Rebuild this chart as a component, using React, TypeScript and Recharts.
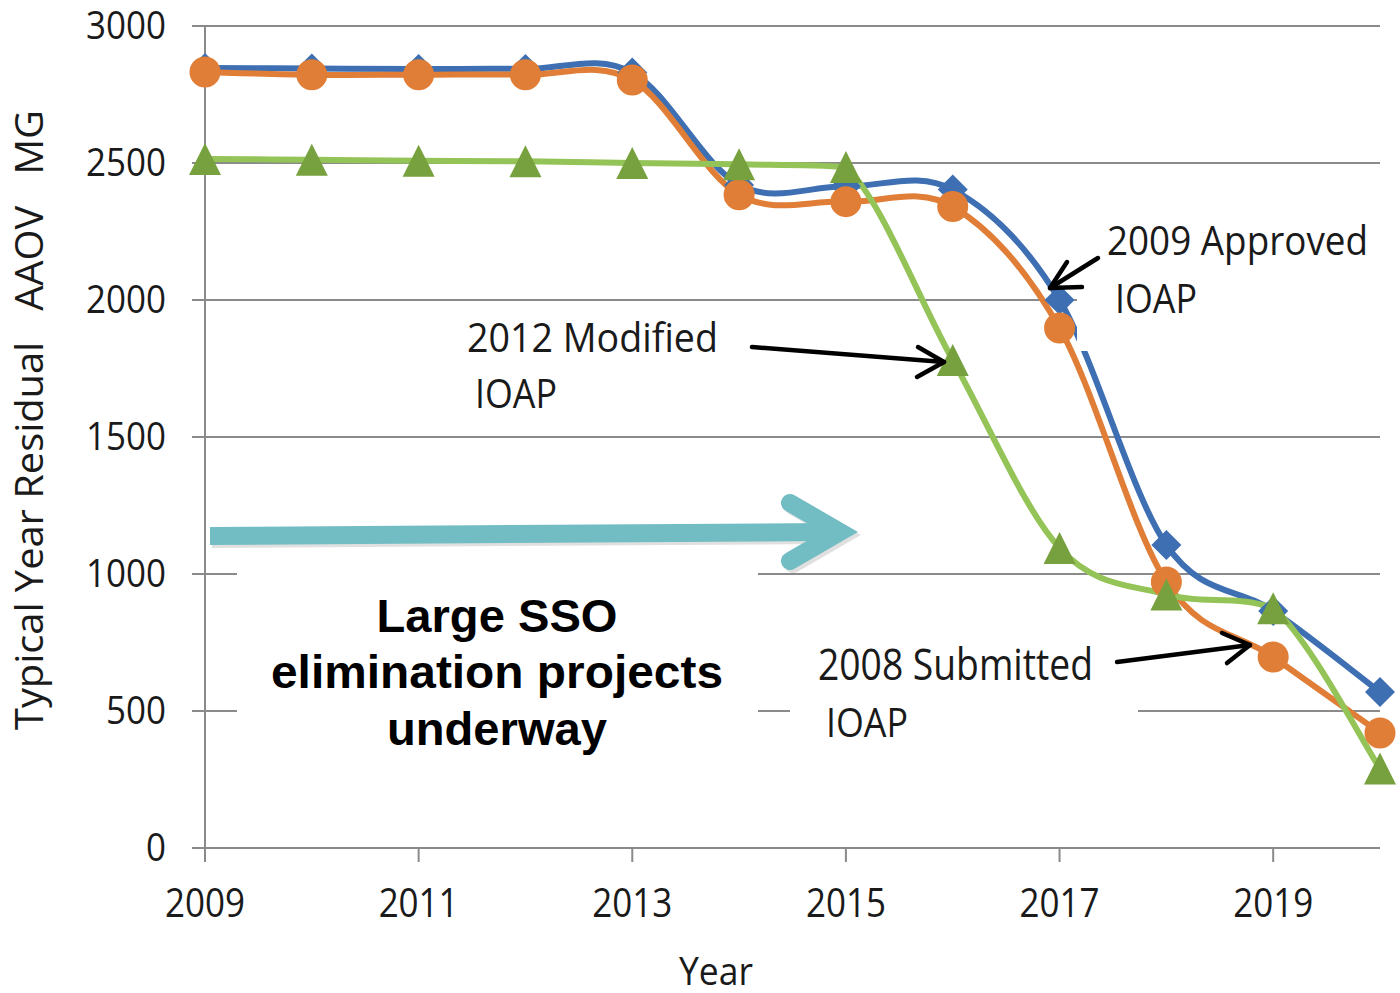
import React from 'react';
import { CartesianGrid, Line, LineChart, XAxis, YAxis } from 'recharts';

const years = [2009, 2010, 2011, 2012, 2013, 2014, 2015, 2016, 2017, 2018, 2019, 2020];
const approved2009 = [2847, 2845, 2843, 2843, 2830, 2420, 2415, 2403, 2000, 1106, 865, 569];
const submitted2008 = [2832, 2822, 2822, 2822, 2803, 2384, 2359, 2341, 1898, 971, 697, 420];
const modified2012 = [2515, 2512, 2508, 2506, 2500, 2495, 2485, 1781, 1095, 925, 875, 290];

const xTicks = [2009, 2011, 2013, 2015, 2017, 2019];
const yTicks = [0, 500, 1000, 1500, 2000, 2500, 3000];

const data = years.map((year, i) => ({
  year,
  approved: approved2009[i],
  submitted: submitted2008[i],
  modified: modified2012[i],
}));

const BLUE = '#3D6FB2';
const ORANGE = '#E07E37';
const GREEN_LINE = '#94C357';
const GREEN_MARK = '#77A13E';
const AXIS = '#8A8A8A';
const FONT = '"Open Sans", sans-serif';

// Excel-style smoothed line (Catmull-Rom through the scaled points).
// With clamp, control points stay inside each segment's y range (no overshoot).
const makeSmooth = (clamp: boolean) => (context: any) => {
  let pts: [number, number][] = [];
  return {
    areaStart() {},
    areaEnd() {},
    lineStart() {
      pts = [];
    },
    point(x: number, y: number) {
      pts.push([+x, +y]);
    },
    lineEnd() {
      if (!pts.length) return;
      context.moveTo(pts[0][0], pts[0][1]);
      for (let i = 0; i < pts.length - 1; i++) {
        const p0 = pts[i - 1] || pts[i];
        const p1 = pts[i];
        const p2 = pts[i + 1];
        const p3 = pts[i + 2] || p2;
        let c1y = p1[1] + (p2[1] - p0[1]) / 6;
        let c2y = p2[1] - (p3[1] - p1[1]) / 6;
        if (clamp) {
          const lo = Math.min(p1[1], p2[1]);
          const hi = Math.max(p1[1], p2[1]);
          c1y = Math.min(hi, Math.max(lo, c1y));
          c2y = Math.min(hi, Math.max(lo, c2y));
        }
        context.bezierCurveTo(
          p1[0] + (p2[0] - p0[0]) / 6,
          c1y,
          p2[0] - (p3[0] - p1[0]) / 6,
          c2y,
          p2[0],
          p2[1]
        );
      }
    },
  };
};

const smooth = makeSmooth(false);
const smoothClamped = makeSmooth(true);

const Diamond = (props: any) => {
  const { cx, cy, index } = props;
  const r = 15;
  return (
    <path
      key={`dia-${index}`}
      d={`M${cx},${cy - r}L${cx + r},${cy}L${cx},${cy + r}L${cx - r},${cy}Z`}
      fill={BLUE}
    />
  );
};

const Circle = (props: any) => {
  const { cx, cy, index } = props;
  return <circle key={`cir-${index}`} cx={cx} cy={cy} r={15.5} fill={ORANGE} />;
};

const Triangle = (props: any) => {
  const { cx, cy, index } = props;
  const h = 16;
  return (
    <path
      key={`tri-${index}`}
      d={`M${cx},${cy - h}L${cx + h},${cy + h}L${cx - h},${cy + h}Z`}
      fill={GREEN_MARK}
    />
  );
};

const YTick = (props: any) => {
  const { x, y, payload } = props;
  const s = String(payload.value);
  return (
    <text
      x={x}
      y={y}
      dy={13}
      textAnchor="end"
      fontFamily={FONT}
      fontSize={39}
      fill="#1a1a1a"
      textLength={s.length * 20}
      lengthAdjust="spacingAndGlyphs"
    >
      {s}
    </text>
  );
};

const XTick = (props: any) => {
  const { x, y, payload } = props;
  return (
    <text
      x={x}
      y={y + 29}
      textAnchor="middle"
      fontFamily={FONT}
      fontSize={41}
      fill="#1a1a1a"
      textLength={80}
      lengthAdjust="spacingAndGlyphs"
    >
      {payload.value}
    </text>
  );
};

const Note = ({ x, y, text, size, width }: any) => (
  <text
    x={x}
    y={y}
    fontFamily={FONT}
    fontSize={size}
    fill="#1a1a1a"
    textLength={width}
    lengthAdjust="spacingAndGlyphs"
  >
    {text}
  </text>
);

const Arrow = ({ from, to, a, b }: any) => (
  <g stroke="#000" strokeWidth={4.5} fill="none" strokeLinecap="round" strokeLinejoin="round">
    <line x1={from[0]} y1={from[1]} x2={to[0]} y2={to[1]} />
    <polyline points={`${a[0]},${a[1]} ${to[0]},${to[1]} ${b[0]},${b[1]}`} />
  </g>
);

function Overlay() {
  return (
    <svg
      width={1400}
      height={993}
      style={{ position: 'absolute', left: 0, top: 0, pointerEvents: 'none' }}
    >
      {/* white text boxes */}
      <rect x={237} y={572} width={521} height={190} fill="#fff" />
      <rect x={790} y={640} width={348} height={105} fill="#fff" />
      <rect x={1077} y={212} width={323} height={139} fill="#fff" />

      {/* teal arrow */}
      <g stroke="rgba(0,0,0,0.12)" strokeWidth={18} fill="none">
        <line x1={212} y1={539} x2={830} y2={535} />
        <polyline points="793,506 843,535 793,564" strokeLinecap="round" strokeLinejoin="miter" />
      </g>
      <g stroke="#72BDC3" strokeWidth={18} fill="none">
        <line x1={210} y1={536} x2={828} y2={532} />
        <polyline points="790,503 840,532 790,561" strokeLinecap="round" strokeLinejoin="miter" />
      </g>

      {/* bold callout */}
      <g
        fontFamily='"Liberation Sans", Arial, sans-serif'
        fontWeight="bold"
        fontSize={47}
        textAnchor="middle"
        fill="#000"
      >
        <text x={497} y={632} textLength={241} lengthAdjust="spacingAndGlyphs">
          Large SSO
        </text>
        <text x={497} y={688} textLength={452} lengthAdjust="spacingAndGlyphs">
          elimination projects
        </text>
        <text x={497} y={745} textLength={220} lengthAdjust="spacingAndGlyphs">
          underway
        </text>
      </g>

      {/* series labels */}
      <Note x={1107} y={255} text="2009 Approved" size={41} width={261} />
      <Note x={1115} y={313} text="IOAP" size={41} width={82} />
      <Note x={467} y={352} text="2012 Modified" size={40} width={251} />
      <Note x={475} y={408} text="IOAP" size={40} width={82} />
      <Note x={818} y={680} text="2008 Submitted" size={43} width={275} />
      <Note x={826} y={737} text="IOAP" size={41} width={82} />

      <Arrow from={[1098, 258]} to={[1050, 288]} a={[1067, 262]} b={[1082, 287]} />
      <Arrow from={[752, 347]} to={[944, 362]} a={[918, 347]} b={[917, 377]} />
      <Arrow from={[1117, 662]} to={[1250, 645]} a={[1222, 633]} b={[1227, 663]} />

      {/* axis titles */}
      <text
        transform="translate(43,420) rotate(-90)"
        textAnchor="middle"
        fontFamily={FONT}
        fontSize={38}
        fill="#1a1a1a"
        textLength={620}
        lengthAdjust="spacingAndGlyphs"
        style={{ whiteSpace: 'pre' }}
      >
        {'Typical Year Residual   AAOV   MG'}
      </text>
      <text
        x={716}
        y={985}
        textAnchor="middle"
        fontFamily={FONT}
        fontSize={39}
        fill="#1a1a1a"
        textLength={74}
        lengthAdjust="spacingAndGlyphs"
      >
        Year
      </text>
    </svg>
  );
}

export default function App() {
  return (
    <div style={{ position: 'absolute', left: 0, top: 0, width: 1400, height: 993, background: '#fff' }}>
      <LineChart
        width={1400}
        height={993}
        data={data}
        margin={{ top: 26, right: 20, bottom: 0, left: 0 }}
      >
        <CartesianGrid vertical={false} stroke={AXIS} strokeWidth={1.8} />
        <XAxis
          dataKey="year"
          type="number"
          domain={[2009, 2020]}
          ticks={xTicks}
          height={145}
          tickSize={14}
          tickMargin={26}
          stroke={AXIS}
          strokeWidth={2}
          tick={<XTick />}
          interval={0}
        />
        <YAxis
          domain={[0, 3000]}
          ticks={yTicks}
          width={205}
          tickSize={13}
          tickMargin={26}
          stroke={AXIS}
          strokeWidth={2}
          tick={<YTick />}
          interval={0}
        />
        <Line
          dataKey="approved"
          name="2009 Approved IOAP"
          type={smooth as any}
          stroke={BLUE}
          strokeWidth={6}
          dot={Diamond}
          activeDot={false}
          isAnimationActive={false}
        />
        <Line
          dataKey="submitted"
          name="2008 Submitted IOAP"
          type={smooth as any}
          stroke={ORANGE}
          strokeWidth={6}
          dot={Circle}
          activeDot={false}
          isAnimationActive={false}
        />
        <Line
          dataKey="modified"
          name="2012 Modified IOAP"
          type={smoothClamped as any}
          stroke={GREEN_LINE}
          strokeWidth={6}
          dot={Triangle}
          activeDot={false}
          isAnimationActive={false}
        />
      </LineChart>
      <Overlay />
    </div>
  );
}
